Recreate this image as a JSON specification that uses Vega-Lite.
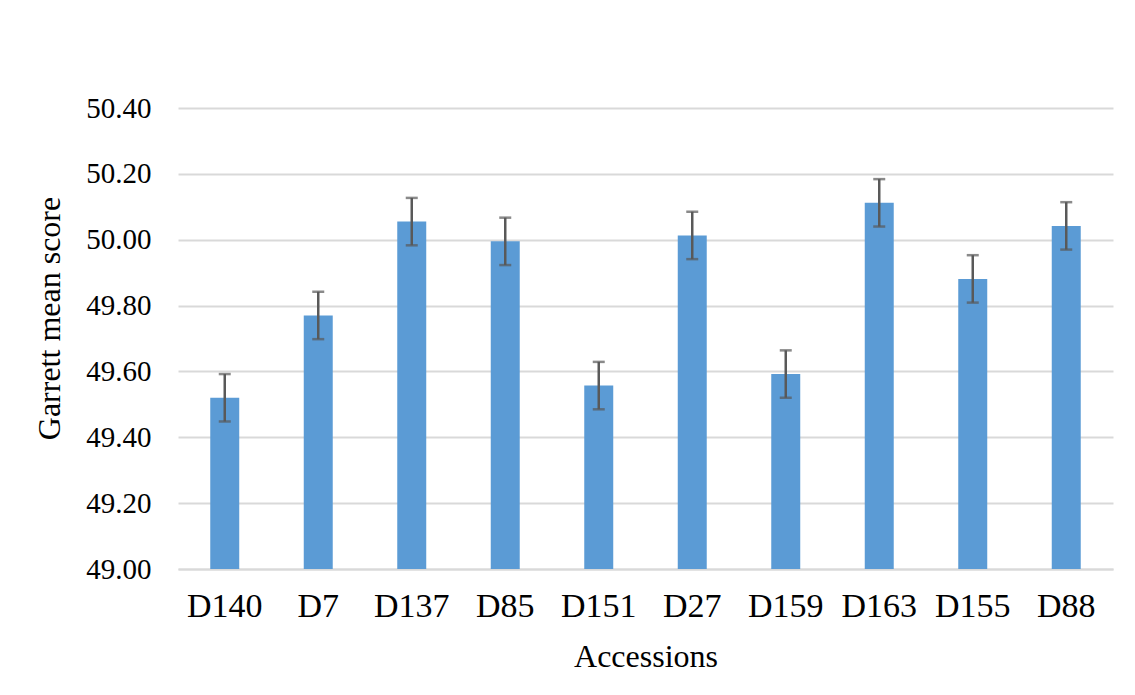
{
  "$schema": "https://vega.github.io/schema/vega-lite/v6.json",
  "autosize": {"type": "none"},
  "padding": {"left": 178, "top": 108, "right": 22, "bottom": 126},
  "width": 935,
  "height": 461,
  "background": "white",
  "config": {
    "view": {"stroke": null},
    "font": "Liberation Serif"
  },
  "data": {
    "values": [
      {"accession": "D140", "score": 49.52, "err": 0.072},
      {"accession": "D7", "score": 49.77, "err": 0.072},
      {"accession": "D137", "score": 50.055, "err": 0.072},
      {"accession": "D85", "score": 49.995, "err": 0.072},
      {"accession": "D151", "score": 49.557, "err": 0.072},
      {"accession": "D27", "score": 50.013, "err": 0.072},
      {"accession": "D159", "score": 49.592, "err": 0.072},
      {"accession": "D163", "score": 50.112, "err": 0.072},
      {"accession": "D155", "score": 49.881, "err": 0.072},
      {"accession": "D88", "score": 50.042, "err": 0.072}
    ]
  },
  "transform": [
    {"calculate": "datum.score - datum.err", "as": "lo"},
    {"calculate": "datum.score + datum.err", "as": "hi"}
  ],
  "encoding": {
    "x": {
      "field": "accession",
      "type": "nominal",
      "sort": null,
      "scale": {"paddingInner": 0.69, "paddingOuter": 0.345},
      "axis": {
        "title": "Accessions",
        "labelAngle": 0,
        "labelFont": "Liberation Serif",
        "labelFontSize": 34,
        "labelColor": "#000000",
        "labelPadding": 20,
        "ticks": false,
        "domainColor": "#d9d9d9",
        "domainWidth": 2,
        "titleFont": "Liberation Serif",
        "titleFontSize": 32,
        "titleFontWeight": "normal",
        "titleColor": "#000000",
        "titlePadding": 18
      }
    }
  },
  "layer": [
    {
      "mark": {"type": "bar", "color": "#5b9bd5", "clip": true},
      "encoding": {
        "y": {
          "field": "score",
          "type": "quantitative",
          "scale": {"domain": [49, 50.4], "zero": false, "nice": false},
          "axis": {
            "title": "Garrett mean score",
            "values": [49, 49.2, 49.4, 49.6, 49.8, 50, 50.2, 50.4],
            "format": ".2f",
            "labelFont": "Liberation Serif",
            "labelFontSize": 29,
            "labelColor": "#000000",
            "labelPadding": 27,
            "ticks": false,
            "domain": false,
            "gridColor": "#d9d9d9",
            "gridWidth": 2,
            "titleFont": "Liberation Serif",
            "titleFontSize": 32,
            "titleFontWeight": "normal",
            "titleColor": "#000000",
            "titleAngle": -90,
            "titleAlign": "center",
            "titleBaseline": "alphabetic",
            "titleX": -119,
            "titleY": 210
          }
        }
      }
    },
    {
      "mark": {"type": "rule", "color": "#595959", "strokeWidth": 2.5},
      "encoding": {
        "y": {"field": "lo", "type": "quantitative"},
        "y2": {"field": "hi"}
      }
    },
    {
      "mark": {"type": "tick", "color": "#595959", "thickness": 2.5, "size": 12, "orient": "horizontal"},
      "encoding": {
        "y": {"field": "lo", "type": "quantitative"}
      }
    },
    {
      "mark": {"type": "tick", "color": "#595959", "thickness": 2.5, "size": 12, "orient": "horizontal"},
      "encoding": {
        "y": {"field": "hi", "type": "quantitative"}
      }
    }
  ]
}
